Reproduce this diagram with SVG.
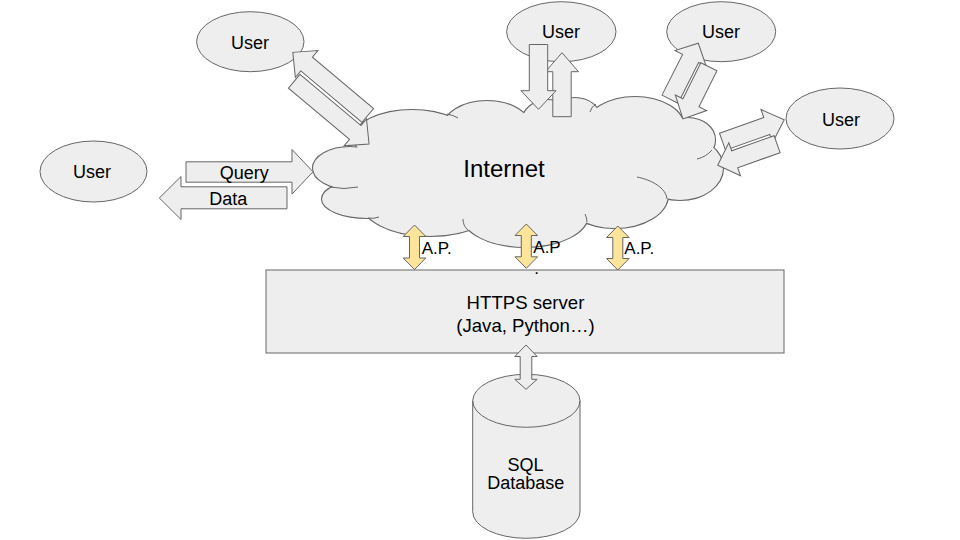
<svg xmlns="http://www.w3.org/2000/svg" width="960" height="540" viewBox="0 0 960 540">
<defs>
<style>
.shape{fill:#eeeeee;stroke:#666666;stroke-width:1}
.ap{fill:#ffe599;stroke:#666666;stroke-width:1}
.t{font-family:"Liberation Sans",Arial,sans-serif;font-size:18px;fill:#000000;text-anchor:middle}
.lbl{font-family:"Liberation Sans",Arial,sans-serif;font-size:17px;fill:#000000}
.lobe-o{fill:none;stroke:#666666;stroke-width:2.2}
.lobe-f{fill:#eeeeee;stroke:none}
.inner{fill:none;stroke:#666666;stroke-width:1}
</style>
<g id="lobes">
<ellipse cx="350" cy="168" rx="37" ry="21"/>
<ellipse cx="368" cy="199" rx="46" ry="19"/>
<ellipse cx="430" cy="200" rx="70" ry="36"/>
<ellipse cx="525" cy="215" rx="63" ry="32"/>
<ellipse cx="615" cy="195" rx="53" ry="33"/>
<ellipse cx="680" cy="168" rx="43" ry="32"/>
<ellipse cx="688" cy="140" rx="27" ry="22"/>
<ellipse cx="635" cy="127" rx="49" ry="30"/>
<ellipse cx="575" cy="118" rx="25" ry="20"/>
<ellipse cx="548" cy="122" rx="26" ry="22"/>
<ellipse cx="487" cy="128" rx="44" ry="27"/>
<ellipse cx="412" cy="138" rx="58" ry="28"/>
</g>
</defs>
<rect width="960" height="540" fill="#ffffff"/>

<g id="user-topleft"><ellipse class="shape" cx="250.3" cy="41.7" rx="53.7" ry="30"/><text class="t" x="250" y="48.5">User</text></g>
<g id="user-topcenter"><ellipse class="shape" cx="561.3" cy="31.7" rx="54.7" ry="30"/><text class="t" x="561" y="37.5">User</text></g>
<g id="user-topright"><ellipse class="shape" cx="721.2" cy="31.7" rx="54.5" ry="30"/><text class="t" x="721" y="37.5">User</text></g>
<g id="user-right"><ellipse class="shape" cx="840" cy="118.5" rx="54" ry="30.5"/><text class="t" x="841" y="125.5">User</text></g>
<g id="user-left"><ellipse class="shape" cx="93.5" cy="171.5" rx="53.5" ry="30.5"/><text class="t" x="92" y="178">User</text></g>

<g id="internet">
<use href="#lobes" class="lobe-o"/>
<use href="#lobes" class="lobe-f"/>
<ellipse class="lobe-f" cx="520" cy="168" rx="160" ry="45"/>
<path class="inner" d="M330,187 Q344,190 358,187 M368,218 Q374,219 379,217 M468,230 Q463,226 463,219 M587,222 Q587,218 585,214 M667,199 C666,188 652,180 637,177 M712,150 Q706,157 697,159 M596,104 Q591,107 590,112 M447,114 Q453,115 458,118"/>
<text class="t" x="504" y="177" style="font-size:24px">Internet</text>
</g>

<g id="https-server">
<rect class="shape" x="266" y="270" width="518" height="83"/>
<text class="t" x="525.5" y="309" style="font-size:18.6px">HTTPS server</text>
<text class="t" x="525.5" y="332" style="font-size:18.6px">(Java, Python…)</text>
</g>

<g id="sql-database">
<path class="shape" d="M472.7,400.8 A53.65,26.5 0 0 1 580,400.8 L580,511.8 A53.65,26.5 0 0 1 472.7,511.8 Z"/>
<path class="shape" style="fill:none" d="M472.7,400.8 A53.65,26.5 0 0 0 580,400.8"/>
<text class="t" x="525.5" y="470.7">SQL</text>
<text class="t" x="525.8" y="489">Database</text>
</g>

<g id="connectors">
<polygon class="shape" points="186,161.8 292,161.8 292,149.5 313,171.8 292,194.1 292,182.2 186,182.2"/>
<text class="t" x="244.3" y="178.8">Query</text>
<polygon class="shape" points="287,186.8 181,186.8 181,176.5 159.3,198 181,219.5 181,208.8 287,208.8"/>
<text class="t" x="228.3" y="205">Data</text>

<polygon class="shape" transform="translate(367.8,115.5) rotate(220.1)" points="0,-9 80,-9 80,-17.5 98,0 80,17.5 80,9 0,9"/>
<polygon class="shape" transform="translate(294.2,81.2) rotate(40)" points="0,-9 79.7,-9 79.7,-17.5 97.7,0 79.7,17.5 79.7,9 0,9"/>

<polygon class="shape" transform="translate(562,116.7) rotate(-90)" points="0,-9.2 45,-9.2 45,-16.5 64,0 45,16.5 45,9.2 0,9.2"/>
<polygon class="shape" transform="translate(538.5,44.5) rotate(90)" points="0,-9.2 46.2,-9.2 46.2,-17.5 64.8,0 46.2,17.5 46.2,9.2 0,9.2"/>

<polygon class="shape" transform="translate(670,99.2) rotate(-63.2)" points="0,-9 45.7,-9 45.7,-17.5 62.7,0 45.7,17.5 45.7,9 0,9"/>
<polygon class="shape" transform="translate(708.9,66.8) rotate(116.5)" points="0,-9 40.2,-9 40.2,-17.5 58.2,0 40.2,17.5 40.2,9 0,9"/>

<polygon class="shape" transform="translate(722.5,141.7) rotate(-19.5)" points="0,-9 47,-9 47,-17.5 65.5,0 47,17.5 47,9 0,9"/>
<polygon class="shape" transform="translate(777.1,144.2) rotate(160.5)" points="0,-9 45,-9 45,-17.5 63,0 45,17.5 45,9 0,9"/>

<polygon class="ap" points="414.5,225 425.8,236.5 419.5,236.5 419.5,258 425.8,258 414.5,269.5 403.2,258 409.5,258 409.5,236.5 403.2,236.5"/>
<polygon class="ap" points="526.3,224 537.6,235.5 531.3,235.5 531.3,256.8 537.6,256.8 526.3,268.3 515,256.8 521.3,256.8 521.3,235.5 515,235.5"/>
<polygon class="ap" points="617.8,226 629.1,237.5 622.8,237.5 622.8,258.5 629.1,258.5 617.8,270 606.5,258.5 612.8,258.5 612.8,237.5 606.5,237.5"/>
<text class="lbl" x="421.7" y="253.5">A.P.</text>
<text class="lbl" x="533.3" y="252.5">A.P</text>
<text class="lbl" x="534.3" y="274">.</text>
<text class="lbl" x="624.3" y="253.5">A.P.</text>

<polygon class="shape" points="526,345 537.2,356.5 531.8,356.5 531.8,379.3 537.2,379.3 526,389.3 514.8,379.3 520.2,379.3 520.2,356.5 514.8,356.5"/>
</g>
</svg>
